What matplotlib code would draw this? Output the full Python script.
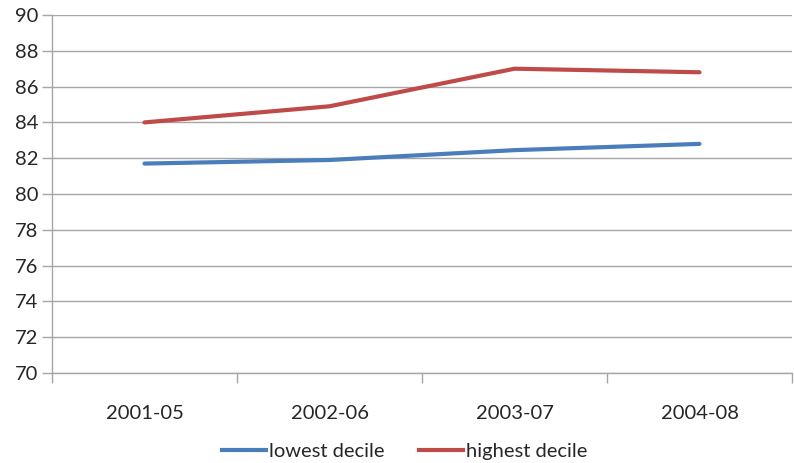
import matplotlib
matplotlib.use("Agg")
import matplotlib.pyplot as plt
from matplotlib.lines import Line2D

categories = ["2001-05", "2002-06", "2003-07", "2004-08"]
lowest_decile = [81.7, 81.9, 82.45, 82.8]
highest_decile = [84.0, 84.9, 87.0, 86.8]
y_ticks = [70, 72, 74, 76, 78, 80, 82, 84, 86, 88, 90]

plt.rcParams['font.family'] = ['Lato', 'DejaVu Sans']

fig = plt.figure(figsize=(7.94, 4.63), dpi=100)
ax = fig.add_axes([0.0655, 0.1944, 0.932, 0.7732])

x = list(range(len(categories)))
blue = "#4A7EBB"
red = "#BE4B48"
ax.plot(x, lowest_decile, color=blue, lw=3.0, solid_capstyle='round', label="lowest decile", zorder=3)
ax.plot(x, highest_decile, color=red, lw=3.0, solid_capstyle='round', label="highest decile", zorder=3)

ax.set_xlim(-0.5, len(categories) - 0.5)
ax.set_ylim(70, 90)
ax.set_yticks(y_ticks)
ax.set_yticklabels([str(v) for v in y_ticks])

grid_col = "#A6A6A6"
ax.grid(axis='y', color=grid_col, lw=1.0)
ax.set_axisbelow(True)

fs = 14.5
ax.set_xticks(x)
ax.set_xticklabels(categories)
ax.set_xticks([i - 0.5 for i in range(len(categories) + 1)], minor=True)
ax.tick_params(axis='x', which='major', length=0, pad=23, labelsize=fs, labelcolor="#262626")
ax.tick_params(axis='x', which='minor', length=7, width=1, color=grid_col, direction='out')
ax.tick_params(axis='y', length=7, width=1, color=grid_col, pad=3, labelsize=fs, labelcolor="#262626")

for side in ['top', 'right']:
    ax.spines[side].set_visible(False)
for side in ['left', 'bottom']:
    ax.spines[side].set_color(grid_col)
    ax.spines[side].set_linewidth(1.0)

handles = [Line2D([0], [0], color=blue, lw=3.0), Line2D([0], [0], color=red, lw=3.0)]
fig.legend(handles, ["lowest decile", "highest decile"], loc='center',
           bbox_to_anchor=(0.51, 0.024), ncol=2, frameon=False, fontsize=fs,
           handlelength=2.2, handletextpad=0.15, columnspacing=1.7,
           labelcolor="#262626")

fig.savefig("out.png", dpi=100)
